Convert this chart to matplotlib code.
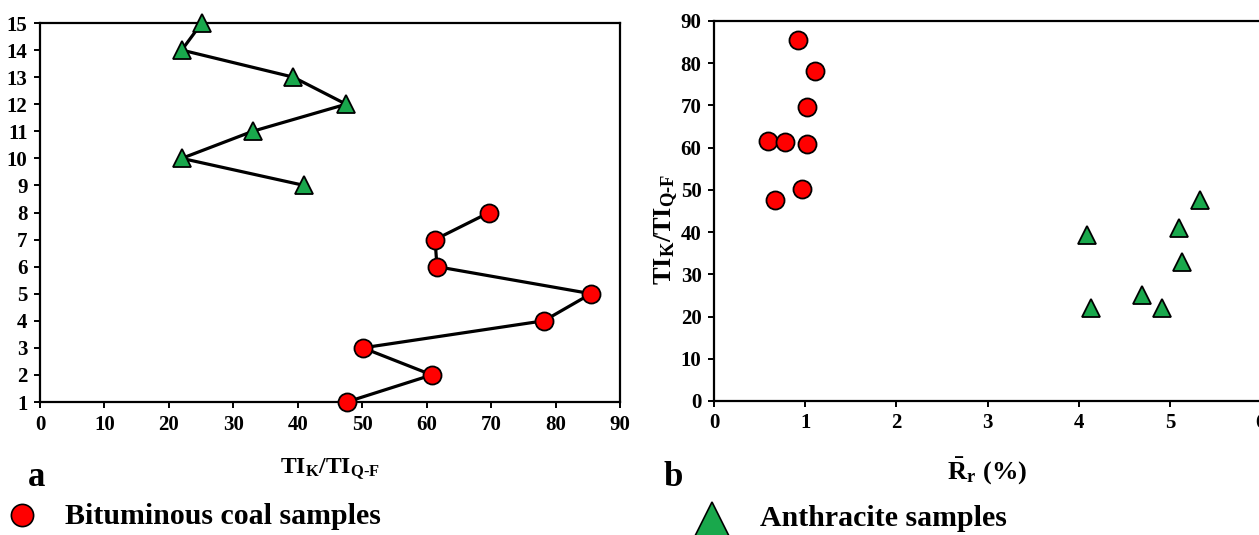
import matplotlib
matplotlib.use("Agg")
import matplotlib.pyplot as plt
from matplotlib.lines import Line2D

plt.rcParams['font.family'] = ['Liberation Serif', 'DejaVu Serif']
plt.rcParams['font.weight'] = 'bold'
plt.rcParams['mathtext.fontset'] = 'custom'
plt.rcParams['mathtext.rm'] = 'Liberation Serif:bold'
plt.rcParams['mathtext.bf'] = 'Liberation Serif:bold'
plt.rcParams['mathtext.it'] = 'Liberation Serif:bold'

# sample numbers and TI_K/TI_Q-F ratios
bit_samples = [1, 2, 3, 4, 5, 6, 7, 8]
bit_ti = [47.6, 60.8, 50.1, 78.2, 85.5, 61.6, 61.3, 69.7]
bit_rr = [0.67, 1.02, 0.96, 1.11, 0.92, 0.59, 0.78, 1.02]

ant_samples = [9, 10, 11, 12, 13, 14, 15]
ant_ti = [41.0, 22.0, 33.0, 47.5, 39.3, 22.0, 25.1]
ant_rr = [5.10, 4.13, 5.13, 5.33, 4.09, 4.91, 4.70]

RED = '#ff0000'
GREEN = '#19a84c'
W, H = 1259, 535

fig = plt.figure(figsize=(W / 100, H / 100), dpi=100)

ti_label = r'$\mathbf{TI}_{\mathbf{K}}\mathbf{/TI}_{\mathbf{Q\text{-}F}}$'

# panel a: ratio vs sample number
ax1 = fig.add_axes([40 / W, 1 - 402 / H, 580 / W, 379 / H])
ax1.plot(bit_ti, bit_samples, color='black', lw=2.3, marker='o', ms=13,
         mfc=RED, mec='black', mew=1.3, clip_on=False, zorder=3)
ax1.plot(ant_ti, ant_samples, color='black', lw=2.3, marker='^', ms=13,
         mfc=GREEN, mec='black', mew=1.3, clip_on=False, zorder=3)
ax1.set_xlim(0, 90)
ax1.set_ylim(1, 15)
ax1.set_xticks(range(0, 91, 10))
ax1.set_yticks(range(1, 16))
ax1.set_xlabel(ti_label, fontsize=17, labelpad=16)

# panel b: ratio vs mean random reflectance
ax2 = fig.add_axes([714 / W, 1 - 401 / H, 547 / W, 380 / H])
ax2.plot(bit_rr, bit_ti, ls='none', marker='o', ms=13, mfc=RED,
         mec='black', mew=1.3, clip_on=False, zorder=3)
ax2.plot(ant_rr, ant_ti, ls='none', marker='^', ms=13, mfc=GREEN,
         mec='black', mew=1.3, clip_on=False, zorder=3)
ax2.set_xlim(0, 6)
ax2.set_ylim(0, 90)
ax2.set_xticks(range(0, 7))
ax2.set_yticks(range(0, 91, 10))
ax2.set_xlabel(r'$\mathbf{\bar{R}_r\ (\%)}$', fontsize=19, labelpad=16)
ax2.set_ylabel(ti_label, fontsize=19)
ax2.yaxis.set_label_coords(-0.062, 0.453)

for ax in (ax1, ax2):
    for sp in ax.spines.values():
        sp.set_linewidth(1.6)
    ax.tick_params(direction='out', length=4, width=1.4, labelsize=15, pad=5)
    for lab in ax.get_xticklabels() + ax.get_yticklabels():
        lab.set_fontweight('bold')

fig.text(28 / W, 1 - 478 / H, 'a', fontsize=25, fontweight='bold', va='center')
fig.text(664 / W, 1 - 478 / H, 'b', fontsize=25, fontweight='bold', va='center')

# legend entries
fig.add_artist(Line2D([22 / W], [1 - 515 / H], transform=fig.transFigure,
                      marker='o', ms=16, mfc=RED, mec='black', mew=1.2, ls='none'))
fig.text(65 / W, 1 - 517 / H, 'Bituminous coal samples', fontsize=21.5,
         fontweight='bold', va='center')
fig.add_artist(Line2D([712 / W], [1 - 519 / H], transform=fig.transFigure,
                      marker='^', ms=24, mfc=GREEN, mec='black', mew=1.2, ls='none'))
fig.text(760 / W, 1 - 518 / H, 'Anthracite samples', fontsize=21.5,
         fontweight='bold', va='center')

fig.savefig('out.png', dpi=100)
